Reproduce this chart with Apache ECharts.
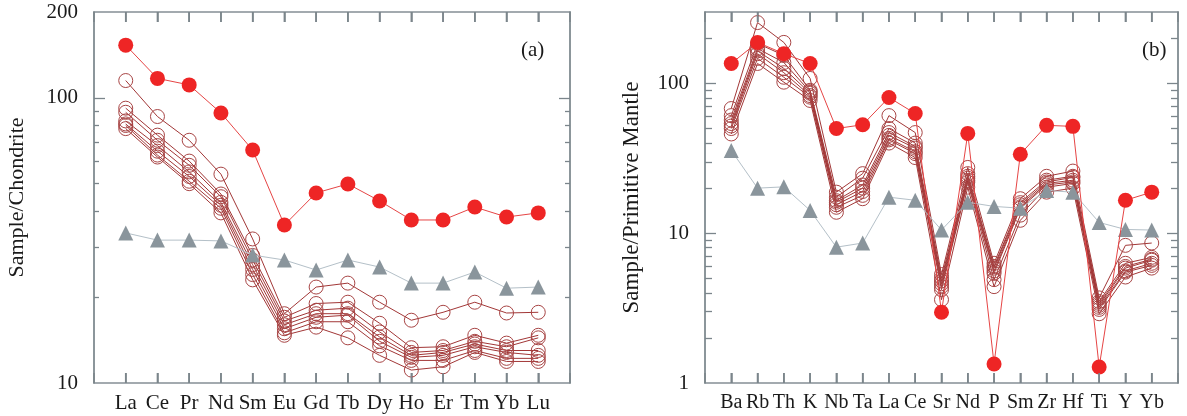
<!DOCTYPE html>
<html>
<head>
<meta charset="utf-8">
<script src="https://cdn.jsdelivr.net/npm/echarts@6/dist/echarts.min.js"></script>
<style>
html,body{margin:0;padding:0;background:#fff}
#main{width:1187px;height:416px}
</style>
</head>
<body>
<div id="main"></div>
<script>
// (a) chondrite normalised REE
var reeNames = ['La','Ce','Pr','Nd','Sm','Eu','Gd','Tb','Dy','Ho','Er','Tm','Yb','Lu'];
var reeRed = [153,117,111,88.5,65.6,35.8,46.4,49.9,43.5,37.3,37.3,41.4,38.2,39.5];
var reeGray = [33.6,31.7,31.7,31.5,28.1,27,24.9,27,25.5,22.4,22.4,24.5,21.5,21.7];
var reeOpen = [
	[115,86,71,54,32,17.5,21.7,22.4,19.2,16.6,17.7,19.2,17.6,17.7],
	[92,74,60,46,28,17,19,19.2,16.2,13.3,13.4,14.7,13.8,14.7],
	[89,71,58,45,27,16.5,18,18.3,15.1,12.8,13,14,13.4,14.4],
	[83,68,55,43,26,16,17.5,17.5,14.5,12.5,12.8,13.7,13,13],
	[81,65,53,42,25,15.5,17,17.3,14,12.3,12.5,13.4,12.8,12.5],
	[80,63,51,41,24,15,16.4,16.4,13.5,12,12,13,12.2,12.2],
	[78,62,50,39.5,23,14.7,15.7,14.4,12.5,11.1,11.4,12.8,11.9,11.9]
];
var reeLabels = [10,100,200];
var reeMajor = [100];
var reeMinor = [20,30,40,50,60,70,80,90];

// (b) primitive mantle normalised spider
var spNames = ['Ba','Rb','Th','K','Nb','Ta','La','Ce','Sr','Nd','P','Sm','Zr','Hf','Ti','Y','Yb'];
var spRed = [136,188,158,136,50,53,80.6,63,2.97,46.4,1.34,33.7,52.5,51.7,1.28,16.6,18.8];
var spGray = [35.7,20,20.4,14.2,8.07,8.6,17.4,16.6,10.5,16.1,15.1,14.7,19.3,18.8,11.8,10.6,10.5];
var spOpen = [
	[68,255,188,108,18.8,25,61,47,5.3,27.5,6.3,17,24,26,3.7,8.3,8.6],
	[61,185,154,90,17.4,23.3,50,40,5,25,6,16,22.6,24,3.5,6.3,6.9],
	[57,171,138,88,16.5,21,47,38,4.8,24,5.85,15.5,22,23.6,3.4,6,6.7],
	[54,165,126,86,16.1,20,45,37,4.6,23.3,5.6,15,21.5,22.6,3.3,5.85,6.6],
	[52,158,118,83,15.5,19,43,35,4.4,22.5,5.4,14.7,21,22,3.2,5.6,6.3],
	[50,147,110,81,14.9,17.9,42,34,4.2,21.9,4.9,13.2,20.3,21.5,3.1,5.5,6.1],
	[46,136,102,77,13.8,17,40,32,3.6,20.3,4.4,12.2,18.8,20,2.9,5.1,5.85]
];
var spLabels = [1,10,100];
var spMajor = [10,100];
var spMinor = [2,3,4,5,6,7,8,9,20,30,40,50,60,70,80,90,200];

var FONT = 'Liberation Serif';
var AXIS_COLOR = '#858f95';
var TICK_COLOR = '#7b858b';
var TEXT_COLOR = '#1a1a1a';

// element k sits at x = k+1, one empty slot on each side
function pairs(vals){
	return vals.map(function(v,i){ return [i+1, v]; });
}
function slots(names){
	return names.map(function(n,i){ return i+1; });
}

function xAxis(gi,names,pos,fontSize){
	return {
		gridIndex:gi, type:'value', min:0, max:names.length+1, interval:1, position:pos,
		axisLine:{show:true, onZero:false, lineStyle:{color:AXIS_COLOR,width:1.5}},
		splitLine:{show:false},
		axisTick:{show:true, inside:true, length:10, lineStyle:{color:TICK_COLOR,width:1.5}},
		axisLabel: pos==='top' ? {show:false} : {margin:10, color:TEXT_COLOR, fontFamily:FONT, fontSize:fontSize,
			hideOverlap:false, showMinLabel:true, showMaxLabel:true,
			formatter:function(v){ return names[v-1] || ''; }}
	};
}

function yAxis(gi,min,max,pos,ticks,len,extra){
	var ax = {gridIndex:gi, type:'log', logBase:10, min:min, max:max, position:pos,
		axisLine:{show:true, onZero:false, lineStyle:{color:AXIS_COLOR,width:1.5}},
		splitLine:{show:false}, minorTick:{show:false},
		axisTick:{show:true, inside:true, length:len, customValues:ticks, lineStyle:{color:TICK_COLOR,width:1.3}},
		axisLabel:{show:false}};
	return Object.assign(ax, extra || {});
}

function yAxes(gi,min,max,labels,major,minor,minorLen,name,nameGap,nameSize){
	return [
		yAxis(gi,min,max,'left',major,11,{name:name, nameLocation:'middle', nameGap:nameGap,
			nameTextStyle:{fontFamily:FONT, fontSize:nameSize, color:TEXT_COLOR},
			axisLabel:{customValues:labels, margin:16, color:TEXT_COLOR, fontFamily:FONT, fontSize:21}}),
		yAxis(gi,min,max,'left',minor,minorLen),
		yAxis(gi,min,max,'right',major,11),
		yAxis(gi,min,max,'right',minor,minorLen)
	];
}

// inward tick marks along the bottom and top edges, one per element
function edgeTicks(gi,names,min,max){
	var style = {type:'scatter', xAxisIndex:gi*2, yAxisIndex:gi*4, silent:true, z:5, clip:false,
		symbol:'rect', symbolSize:[1.6,10], itemStyle:{color:TICK_COLOR, opacity:1}};
	return [
		Object.assign({}, style, {data:slots(names).map(function(k){ return [k,min]; }), symbolOffset:[0,-5]}),
		Object.assign({}, style, {data:slots(names).map(function(k){ return [k,max]; }), symbolOffset:[0,5]})
	];
}

function seriesFor(gi,red,gray,open){
	var out = [];
	open.forEach(function(vals){
		out.push({
			type:'line', xAxisIndex:gi*2, yAxisIndex:gi*4, data:pairs(vals),
			symbol:'circle', symbolSize:14, z:2,
			lineStyle:{color:'#a23737', width:1},
			itemStyle:{color:'rgba(0,0,0,0)', borderColor:'#a84545', borderWidth:1}
		});
	});
	out.push({
		type:'line', xAxisIndex:gi*2, yAxisIndex:gi*4, data:pairs(gray),
		symbol:'triangle', symbolSize:15, z:3,
		lineStyle:{color:'#b4c0c8', width:1},
		itemStyle:{color:'#8a959c'}
	});
	out.push({
		type:'line', xAxisIndex:gi*2, yAxisIndex:gi*4, data:pairs(red),
		symbol:'circle', symbolSize:15, z:4,
		lineStyle:{color:'#e64545', width:1},
		itemStyle:{color:'#ee2525'}
	});
	return out;
}

var chart = echarts.init(document.getElementById('main'));
chart.setOption({
	backgroundColor:'#ffffff',
	animation:false,
	title:[
		{text:'(a)', left:516, top:35, textStyle:{fontFamily:FONT, fontSize:21, fontWeight:'normal', color:TEXT_COLOR}},
		{text:'(b)', left:1137, top:35, textStyle:{fontFamily:FONT, fontSize:21, fontWeight:'normal', color:TEXT_COLOR}}
	],
	grid:[
		{left:94, top:12, width:476, height:371},
		{left:705, top:12, width:473, height:371}
	],
	xAxis:[
		xAxis(0,reeNames,'bottom',21), xAxis(0,reeNames,'top',21),
		xAxis(1,spNames,'bottom',20), xAxis(1,spNames,'top',20)
	],
	yAxis: yAxes(0,10,200,reeLabels,reeMajor,reeMinor,5,'Sample/Chondrite',66,22)
		.concat(yAxes(1,1,300,spLabels,spMajor,spMinor,7,'Sample/Primitive Mantle',62,23)),
	series: seriesFor(0,reeRed,reeGray,reeOpen)
		.concat(seriesFor(1,spRed,spGray,spOpen))
		.concat(edgeTicks(0,reeNames,10,200))
		.concat(edgeTicks(1,spNames,1,300))
});
</script>
</body>
</html>
